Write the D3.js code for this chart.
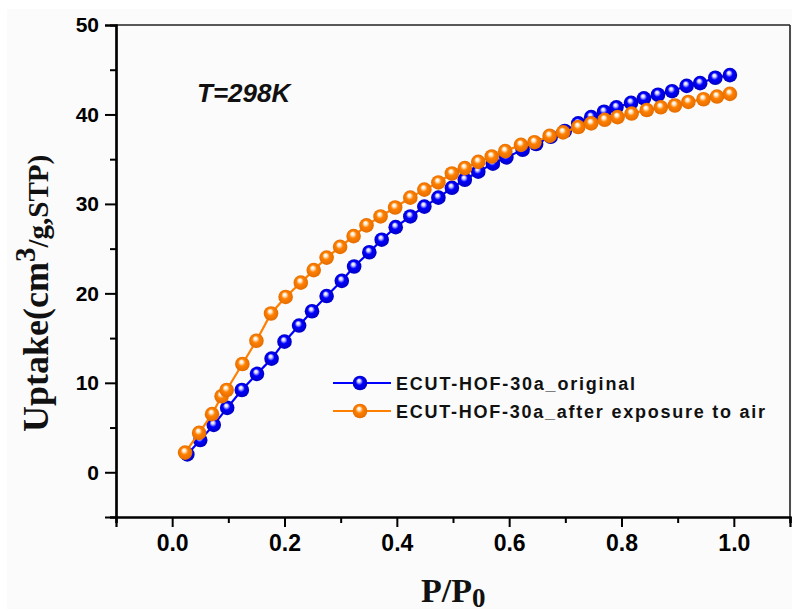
<!DOCTYPE html>
<html>
<head>
<meta charset="utf-8">
<script src="https://cdn.jsdelivr.net/npm/d3@7/dist/d3.min.js"></script>
<style>
  html, body { margin: 0; padding: 0; background: #ffffff; }
  svg { display: block; }
</style>
</head>
<body>
<svg id="chart" width="799" height="612"></svg>
<script>
// CO2-type uptake isotherms at 298 K (P/P0 vs uptake, cm3/g STP)
const originalP = [0.027, 0.05, 0.074, 0.098, 0.124, 0.151, 0.177, 0.2, 0.226, 0.249,
  0.275, 0.302, 0.324, 0.351, 0.373, 0.398, 0.424, 0.449, 0.474, 0.498,
  0.521, 0.545, 0.571, 0.595, 0.624, 0.648, 0.674, 0.699, 0.723, 0.746,
  0.769, 0.791, 0.817, 0.84, 0.865, 0.89, 0.916, 0.94, 0.967, 0.993];
const originalUptake = [2.0, 3.6, 5.3, 7.2, 9.2, 11.0, 12.7, 14.6, 16.4, 18.0,
  19.7, 21.4, 23.0, 24.6, 26.0, 27.4, 28.6, 29.7, 30.7, 31.8,
  32.7, 33.6, 34.5, 35.2, 36.05, 36.7, 37.5, 38.15, 39.0, 39.7,
  40.3, 40.8, 41.3, 41.8, 42.2, 42.6, 43.2, 43.5, 44.1, 44.4];

const exposedP = [0.023, 0.048, 0.071, 0.088, 0.097, 0.125, 0.15, 0.176, 0.202, 0.229,
  0.252, 0.275, 0.299, 0.323, 0.346, 0.371, 0.397, 0.424, 0.449, 0.474,
  0.498, 0.521, 0.545, 0.569, 0.593, 0.621, 0.645, 0.672, 0.696, 0.723,
  0.746, 0.77, 0.793, 0.818, 0.845, 0.87, 0.895, 0.919, 0.946, 0.97, 0.993];
const exposedUptake = [2.2, 4.4, 6.5, 8.5, 9.2, 12.1, 14.7, 17.75, 19.6, 21.2,
  22.6, 24.0, 25.2, 26.4, 27.6, 28.6, 29.6, 30.7, 31.6, 32.4,
  33.4, 34.0, 34.7, 35.3, 35.9, 36.6, 36.9, 37.6, 38.0, 38.6,
  39.0, 39.4, 39.7, 40.1, 40.5, 40.8, 41.0, 41.4, 41.7, 42.0, 42.3];

const seriesNames = ["ECUT-HOF-30a_original", "ECUT-HOF-30a_after exposure to air"];
const xMajorTicks = [0.0, 0.2, 0.4, 0.6, 0.8, 1.0];
const xMinorTicks = [-0.1, 0.1, 0.3, 0.5, 0.7, 0.9, 1.1];
const yMajorTicks = [0, 10, 20, 30, 40, 50];
const yMinorTicks = [-5, 5, 15, 25, 35, 45];

const series = [
  { name: seriesNames[0], p: originalP, v: originalUptake, color: "#0000ff", light: "#d8d8ff", dark: "#0000b8", id: "gBlue" },
  { name: seriesNames[1], p: exposedP, v: exposedUptake, color: "#ff8000", light: "#fff0dc", dark: "#e06a00", id: "gOrange" }
];

const svg = d3.select("#chart");
const plotLeft = 116, plotRight = 790, plotTop = 25, plotBottom = 517;

svg.append("rect").attr("x", 7).attr("y", 9).attr("width", 785).attr("height", 600).attr("fill", "#fbfbfb");

const x = d3.scaleLinear().domain([-0.1, 1.1]).range([plotLeft, plotRight]);
const y = d3.scaleLinear().domain([-5, 50]).range([plotBottom, plotTop]);

// sphere-like marker fills
const defs = svg.append("defs");
series.forEach(s => {
  const g = defs.append("radialGradient").attr("id", s.id)
    .attr("cx", "50%").attr("cy", "50%").attr("r", "55%")
    .attr("fx", "42%").attr("fy", "32%");
  g.append("stop").attr("offset", "0%").attr("stop-color", "#ffffff");
  g.append("stop").attr("offset", "18%").attr("stop-color", s.light);
  g.append("stop").attr("offset", "45%").attr("stop-color", s.color);
  g.append("stop").attr("offset", "100%").attr("stop-color", s.dark);
});

// frame (top and right)
svg.append("line").attr("x1", plotLeft).attr("x2", plotRight).attr("y1", plotTop).attr("y2", plotTop)
  .attr("stroke", "#222").attr("stroke-width", 1.6);
svg.append("line").attr("x1", plotRight).attr("x2", plotRight).attr("y1", plotTop).attr("y2", plotBottom)
  .attr("stroke", "#222").attr("stroke-width", 1.6);

// axes
const axisFont = "Arial, 'Liberation Sans', sans-serif";
const yAxisMajor = svg.append("g").attr("transform", `translate(${plotLeft},0)`)
  .call(d3.axisLeft(y).tickValues(yMajorTicks).tickSize(11).tickPadding(6).tickFormat(d3.format("d")));
const yAxisMinor = svg.append("g").attr("transform", `translate(${plotLeft},0)`)
  .call(d3.axisLeft(y).tickValues(yMinorTicks).tickSize(6).tickFormat(""));
const xAxisMajor = svg.append("g").attr("transform", `translate(0,${plotBottom})`)
  .call(d3.axisBottom(x).tickValues(xMajorTicks).tickSize(10).tickPadding(8).tickFormat(d3.format(".1f")));
const xAxisMinor = svg.append("g").attr("transform", `translate(0,${plotBottom})`)
  .call(d3.axisBottom(x).tickValues(xMinorTicks).tickSize(6).tickFormat(""));

[yAxisMajor, yAxisMinor, xAxisMajor, xAxisMinor].forEach(a => {
  a.select(".domain").attr("stroke", "#000").attr("stroke-width", 2.2);
  a.selectAll(".tick line").attr("stroke", "#000").attr("stroke-width", 2);
});
yAxisMajor.selectAll(".tick text").attr("font-family", axisFont).attr("font-weight", "bold")
  .attr("font-size", 21).attr("fill", "#000");
xAxisMajor.selectAll(".tick text").attr("font-family", axisFont).attr("font-weight", "bold")
  .attr("font-size", 23).attr("fill", "#000");

// data lines and markers
const line = d3.line().x(d => x(d[0])).y(d => y(d[1]));
series.forEach(s => {
  const pts = s.p.map((p, i) => [p, s.v[i]]);
  svg.append("path").datum(pts).attr("d", line)
    .attr("fill", "none").attr("stroke", s.color).attr("stroke-width", 2.2);
  svg.append("g").selectAll("circle").data(pts).join("circle")
    .attr("cx", d => x(d[0])).attr("cy", d => y(d[1])).attr("r", 7.3)
    .attr("fill", `url(#${s.id})`);
});

// annotation
svg.append("text").attr("x", 197).attr("y", 102)
  .attr("font-family", axisFont).attr("font-weight", "bold").attr("font-style", "italic")
  .attr("font-size", 26).attr("fill", "#111").text("T=298K");

// legend
const legendRows = [383, 411];
series.forEach((s, i) => {
  const ly = legendRows[i];
  svg.append("line").attr("x1", 333).attr("x2", 391).attr("y1", ly).attr("y2", ly)
    .attr("stroke", s.color).attr("stroke-width", 2.2);
  svg.append("circle").attr("cx", 360).attr("cy", ly).attr("r", 7.3).attr("fill", `url(#${s.id})`);
  svg.append("text").attr("x", 396).attr("y", ly + 6.5)
    .attr("font-family", axisFont).attr("font-weight", "bold").attr("font-size", 18)
    .attr("fill", "#111")
    .attr("textLength", i === 0 ? 239 : 369).attr("lengthAdjust", "spacing")
    .text(s.name);
});

// axis titles
const serif = "'Times New Roman', 'Liberation Serif', serif";
const yt = svg.append("text")
  .attr("transform", "translate(48,432) rotate(-90)")
  .attr("text-anchor", "start")
  .attr("font-family", serif).attr("font-weight", "bold").attr("font-size", 36).attr("fill", "#111");
yt.append("tspan").text("Uptake(cm");
yt.append("tspan").attr("font-size", 29).attr("dy", -13).text("3");
yt.append("tspan").attr("font-size", 29).attr("dy", 13).text("/g,STP)");

const xt = svg.append("text").attr("x", 421).attr("y", 602)
  .attr("font-family", serif).attr("font-weight", "bold").attr("font-size", 34).attr("fill", "#111");
xt.append("tspan").text("P/P");
xt.append("tspan").attr("font-size", 27).attr("dy", 5).text("0");
</script>
</body>
</html>
